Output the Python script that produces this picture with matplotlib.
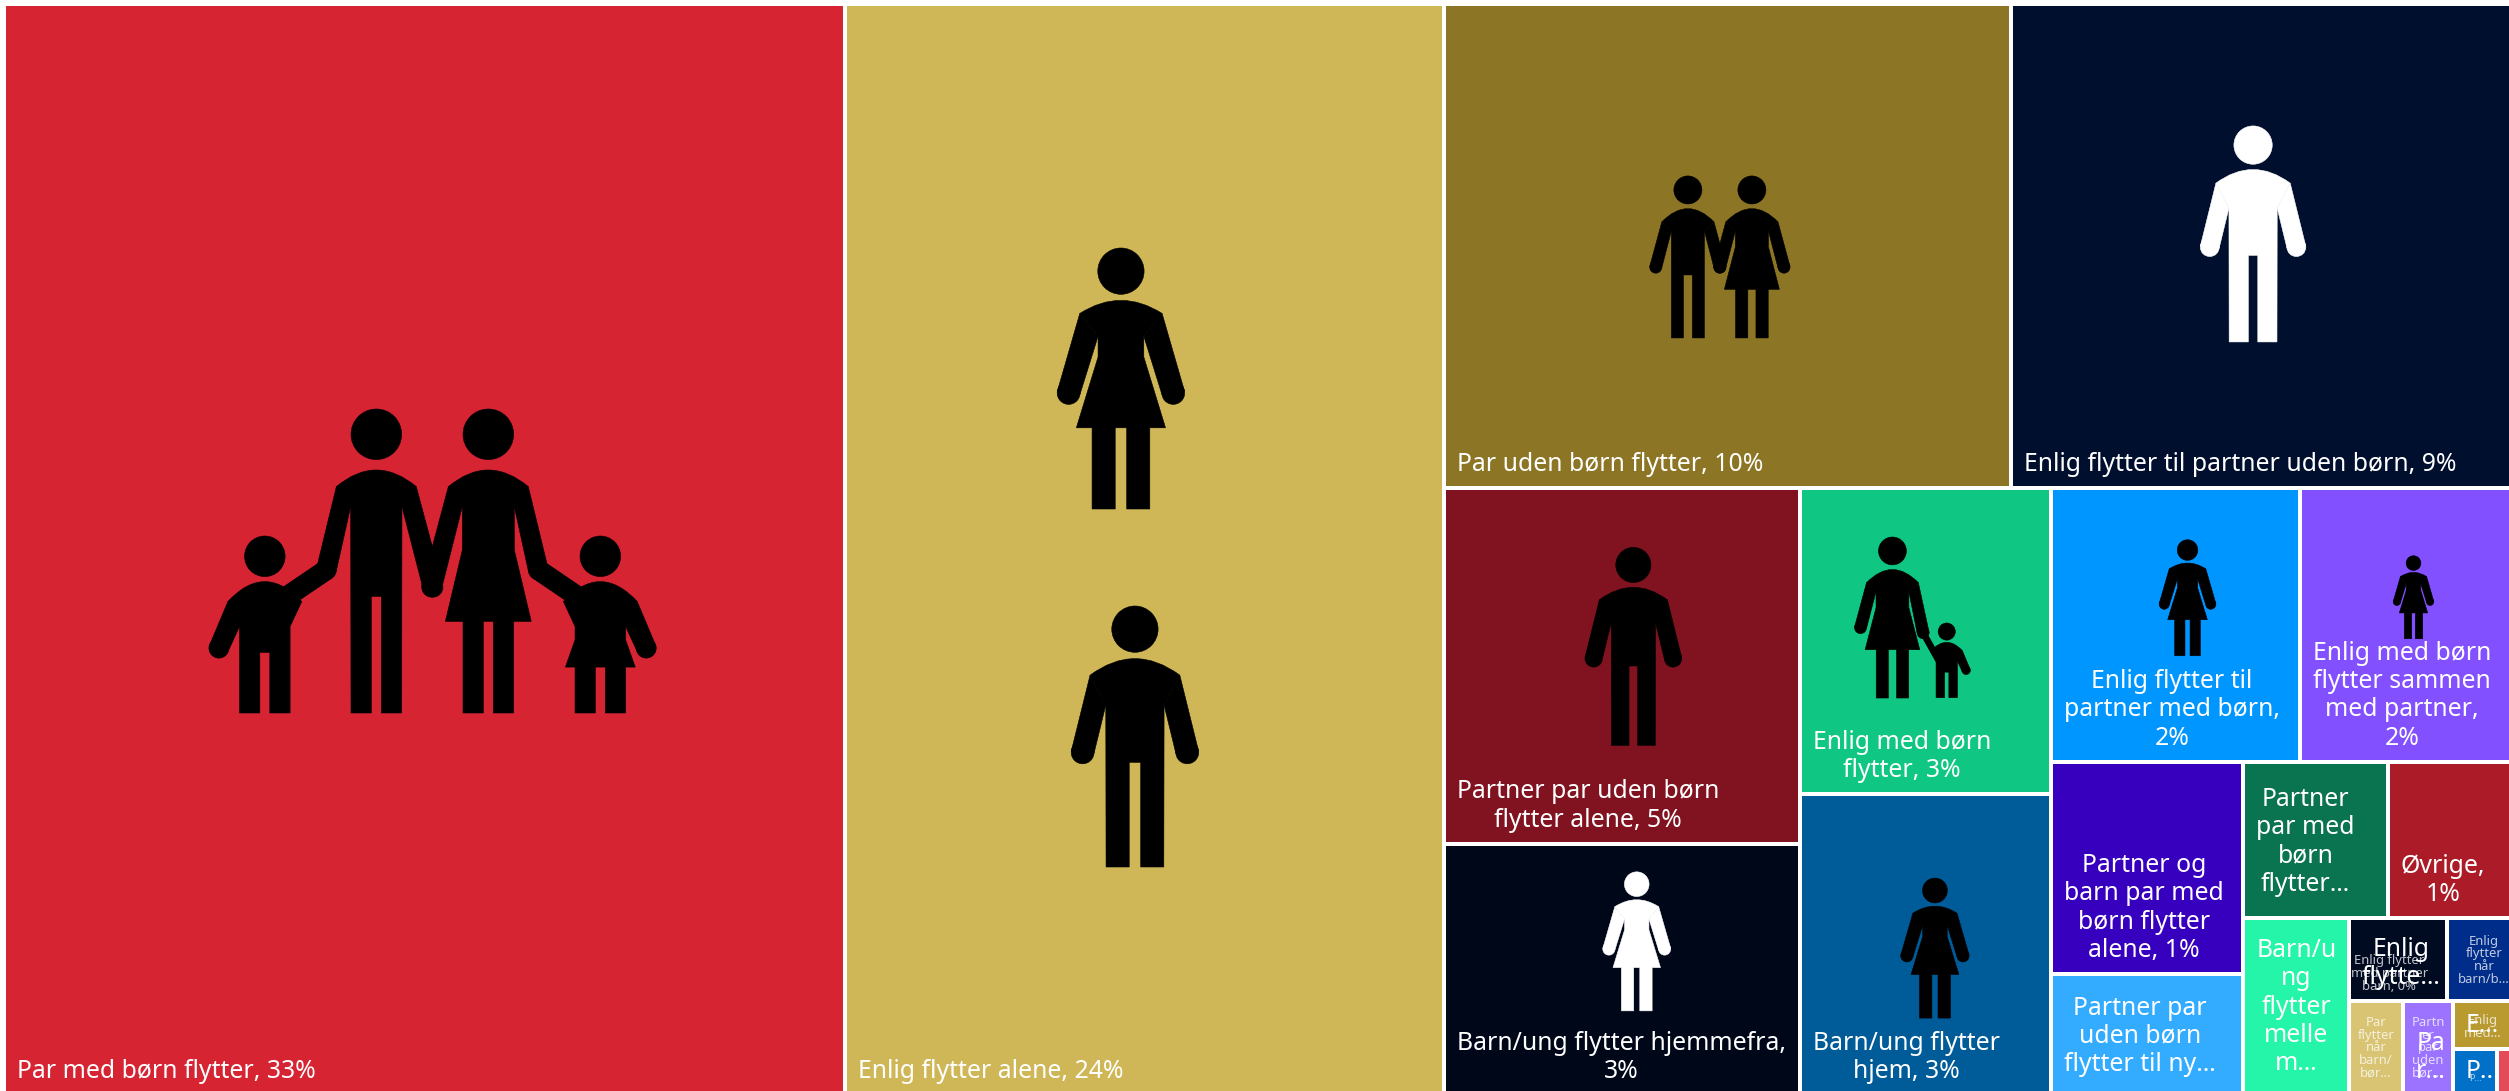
import matplotlib
matplotlib.use('Agg')
import matplotlib.pyplot as plt
from matplotlib.path import Path
from matplotlib.patches import PathPatch, Rectangle, Circle, Polygon

# share of moves per household type, read from the tile areas
shares = [33.5, 23.87, 10.03, 8.87, 4.63, 3.27, 2.81, 2.76, 2.49, 2.13, 1.49, 0.85,
          0.824, 0.716, 0.685, 0.298, 0.199, 0.185, 0.172, 0.105, 0.074, 0.027]

labels = [
    'Par med børn flytter, 33%',
    'Enlig flytter alene, 24%',
    'Par uden børn flytter, 10%',
    'Enlig flytter til partner uden børn, 9%',
    'Partner par uden børn\nflytter alene, 5%',
    'Barn/ung flytter hjemmefra,\n3%',
    'Enlig med børn\nflytter, 3%',
    'Barn/ung flytter\nhjem, 3%',
    'Enlig flytter til\npartner med børn,\n2%',
    'Enlig med børn\nflytter sammen\nmed partner,\n2%',
    'Partner og\nbarn par med\nbørn flytter\nalene, 1%',
    'Partner par\nuden børn\nflytter til ny…',
    'Partner\npar med\nbørn\nflytter…',
    'Øvrige,\n1%',
    'Barn/u\nng\nflytter\nmelle\nm…',
    'Enlig\nflytte…',
    '',
    '',
    'Pa\nr…',
    'E…',
    'P..',
    '',
]

# labels that were cut short sit a little higher in their tile
label_lift = {11: 7, 12: 10, 14: 8}

# second, smaller labels that sit on the tiny tiles
small_labels = [
    'Enlig flytter\nmed partner\nbarn, 0%',
    'Enlig\nflytter\nnår\nbarn/b…',
    'Par\nflytter\nnår\nbarn/\nbør…',
    'Partn\ner\npar\nuden\nbør…',
    'Enlig\nmed…',
    'P…',
]
small_tiles = [15, 16, 17, 18, 19, 20]
small_sizes = [13, 13, 13, 13, 13, 9]
small_dx = [-9, 4, 0, 0, 0, 0]
small_pad = [8, 15, 15, 15, 9, 12]

colors = ['#D62433', '#CFB757', '#8C7524', '#000F2D', '#80131F', '#000719',
          '#0FC783', '#005B99', '#0096FF', '#8250FF', '#3700BE', '#33ABFF',
          '#0A7350', '#AB1C28', '#24F5A8', '#000A21', '#002D8A', '#D9C474',
          '#9B73FF', '#B89A30', '#0070C9', '#E44B59']

# figure shapes, in units where an adult is 913 tall and a child 532
MAN = dict(tall=913, head=81, top=184, sh=(157, 242), pit=(102, 347), hand=(183, 512, 40),
           leg=101, gap=20, crotch=547)
WOMAN = dict(tall=913, head=81, top=183, sh=(144, 229), pit=(80, 309), waist=381, hem=(156, 629),
             hand=(183, 507, 40), leg=101, gap=20)
SLIM_MAN = dict(tall=913, head=76, top=183, sh=(120, 233), pit=(77, 293), hand=(170, 535, 30),
                leg=76, gap=15, crotch=563)
SLIM_WOMAN = dict(tall=913, head=76, top=183, sh=(120, 233), pit=(78, 293), waist=423, hem=(129, 638),
                  hand=(170, 535, 30), leg=76, gap=15)
PAIR_MAN = dict(tall=913, head=79, top=184, sh=(147, 259), pit=(93, 310), hand=(181, 514, 34),
                leg=93, gap=25, crotch=558)
PAIR_WOMAN = dict(tall=913, head=79, top=184, sh=(147, 259), pit=(93, 310), waist=400, hem=(155, 639),
                  hand=(181, 514, 34), leg=92, gap=23)
BOY = dict(tall=532, head=61, top=137, sh=(111, 197), pit=(76, 272), hand=(138, 337, 30),
           leg=76, gap=15, crotch=350)
GIRL = dict(tall=532, head=61, top=137, sh=(111, 197), pit=(76, 272), waist=312, hem=(105, 394),
            hand=(138, 337, 30), leg=76, gap=15)

# icons: tile, shape, offset from tile centre, height, colour
icons = [
    (1, WOMAN, -23.2, -171, 261, 'black'),
    (1, MAN, -9.2, 187, 261, 'black'),
    (3, MAN, -9, -12, 216, 'white'),
    (4, MAN, 11.6, -19.4, 198, 'black'),
    (5, WOMAN, 15, -28, 139, 'white'),
    (7, WOMAN, 9.5, 3.5, 140, 'black'),
    (8, WOMAN, 12, -27, 116, 'black'),
    (9, WOMAN, 7, -27.5, 83, 'black'),
]

plt.rcParams['font.family'] = ['Noto Sans', 'DejaVu Sans']

WIDTH, HEIGHT = 2509, 1091
DPI = 100
FONT_PX = 24.8
PAD = 13


def px(size):
    return size * 72 / DPI


def worst_ratio(row, side):
    total = sum(row)
    return max(max(side * side * a / total ** 2, total ** 2 / (side * side * a)) for a in row)


def squarify(values, x, y, w, h):
    scale = w * h / sum(values)
    areas = [v * scale for v in values]
    rects = []
    while areas:
        side = min(w, h)
        row = [areas.pop(0)]
        while areas and worst_ratio(row + [areas[0]], side) <= worst_ratio(row, side):
            row.append(areas.pop(0))
        total = sum(row)
        if w >= h:
            col_w = total / h
            cy = y
            for a in row:
                rects.append((x, cy, col_w, a / col_w))
                cy += a / col_w
            x += col_w
            w -= col_w
        else:
            row_h = total / w
            cx = x
            for a in row:
                rects.append((cx, y, a / row_h, row_h))
                cx += a / row_h
            y += row_h
            h -= row_h
    return rects


def person(ax, cx, top, height, color, shape, sides=(-1, 1), links=()):
    """links: (side, elbow, target, line width) for an arm that reaches for someone else"""
    k = height / shape['tall']
    # a hairline outline in the fill colour hides the seams between the pieces
    fill = dict(facecolor=color, edgecolor=color, lw=0.4, zorder=3)

    def P(a, b):
        return (cx + a * k, top + b * k)

    def arm(side, hx, hy, r):
        sx, sy = shape['sh']
        ax_, ay_ = side * sx, sy
        dx, dy = side * hx - ax_, hy - ay_
        n = (dx * dx + dy * dy) ** 0.5
        ox, oy = dy / n * r, -dx / n * r
        pts = [P(ax_, ay_), P(side * hx + ox * side, hy + oy * side),
               P(side * hx - ox * side, hy - oy * side), P(side * shape['pit'][0], shape['pit'][1])]
        ax.add_patch(Polygon(pts, closed=True, **fill))
        ax.add_patch(Circle(P(side * hx, hy), r * k, **fill))

    head = shape['head']
    ax.add_patch(Circle(P(0, head), head * k, **fill))

    sx, sy = shape['sh']
    px_, py_ = shape['pit']
    leg, gap, bottom = shape['leg'], shape['gap'], shape['tall']
    verts = [P(-sx, sy), P(0, 2 * shape['top'] - sy), P(sx, sy), P(px_, py_)]
    codes = [Path.MOVETO, Path.CURVE3, Path.CURVE3, Path.LINETO]
    if 'hem' in shape:
        waist = shape['waist']
        hx, hy = shape['hem']
        mid = [P(px_, waist), P(hx, hy), P(leg, hy), P(leg, bottom), P(gap, bottom), P(gap, hy),
               P(-gap, hy), P(-gap, bottom), P(-leg, bottom), P(-leg, hy), P(-hx, hy), P(-px_, waist)]
    else:
        crotch = shape['crotch']
        mid = [P(leg, bottom), P(gap, bottom), P(gap, crotch), P(-gap, crotch),
               P(-gap, bottom), P(-leg, bottom)]
    verts += mid + [P(-px_, py_), P(-sx, sy)]
    codes += [Path.LINETO] * (len(mid) + 1) + [Path.CLOSEPOLY]
    ax.add_patch(PathPatch(Path(verts, codes), **fill))

    hand_x, hand_y, hand_r = shape['hand']
    for side in sides:
        arm(side, hand_x, hand_y, hand_r)
    for side, elbow, target, width in links:
        arm(side, elbow[0], elbow[1], hand_r)
        a, b = P(side * elbow[0], elbow[1]), P(side * target[0], target[1])
        ax.plot([a[0], b[0]], [a[1], b[1]], color=color, lw=px(width * k),
                solid_capstyle='butt', zorder=3)


def main():
    fig = plt.figure(figsize=(WIDTH / DPI, HEIGHT / DPI), dpi=DPI)
    ax = fig.add_axes([0, 0, 1, 1])
    ax.set_xlim(0, WIDTH)
    ax.set_ylim(HEIGHT, 0)
    ax.axis('off')

    tiles = squarify(shares, 4, 4, WIDTH, HEIGHT)

    for (x, y, w, h), c in zip(tiles, colors):
        ax.add_patch(Rectangle((x, y), w, h, facecolor=c, edgecolor='white', lw=px(4), zorder=1))

    for i, ((x, y, w, h), text) in enumerate(zip(tiles, labels)):
        if not text:
            continue
        ax.text(x + PAD, y + h - 11 - label_lift.get(i, 0), text, color='white', fontsize=px(FONT_PX),
                ha='left', va='bottom', multialignment='center', linespacing=1.17, zorder=5)

    for i, text, size, dx, pad in zip(small_tiles, small_labels, small_sizes, small_dx, small_pad):
        x, y, w, h = tiles[i]
        ax.text(x + w / 2 + dx, y + h - pad, text, color='white', alpha=0.75, fontsize=px(size),
                ha='center', va='bottom', multialignment='center', linespacing=0.98, zorder=4)

    for i, shape, dx, dy, height, color in icons:
        x, y, w, h = tiles[i]
        person(ax, x + w / 2 + dx, y + h / 2 + dy - height / 2, height, color, shape)

    # family on the first tile, holding hands
    x, y, w, h = tiles[0]
    cx, cy = x + w / 2 + 8, y + h / 2 + 11.5
    top = cy - 152
    person(ax, cx - 56, top, 304, 'black', SLIM_MAN, sides=(1,),
           links=[(-1, (150, 483), (290, 578), 62)])
    person(ax, cx + 56, top, 304, 'black', SLIM_WOMAN, sides=(-1,),
           links=[(1, (150, 483), (290, 578), 62)])
    person(ax, cx - 167.5, top + 127, 177, 'black', BOY, sides=(-1,))
    person(ax, cx + 168, top + 127, 177, 'black', GIRL, sides=(1,))

    # couple on the third tile
    x, y, w, h = tiles[2]
    cx, cy = x + w / 2, y + h / 2 + 11
    person(ax, cx - 39.5, cy - 81, 162, 'black', PAIR_MAN)
    person(ax, cx + 24.5, cy - 81, 162, 'black', PAIR_WOMAN)

    # woman with child on the enlig med børn tile
    x, y, w, h = tiles[6]
    cx, cy = x + w / 2 - 33, y + h / 2 - 23.5
    person(ax, cx, cy - 80.5, 161, 'black', PAIR_WOMAN, sides=(-1,),
           links=[(1, (174, 543), (262, 700), 38)])
    person(ax, cx + 54.3, cy + 5.5, 74.7, 'black', BOY, sides=(1,))

    plt.savefig('out.png', dpi=DPI)


if __name__ == '__main__':
    main()
